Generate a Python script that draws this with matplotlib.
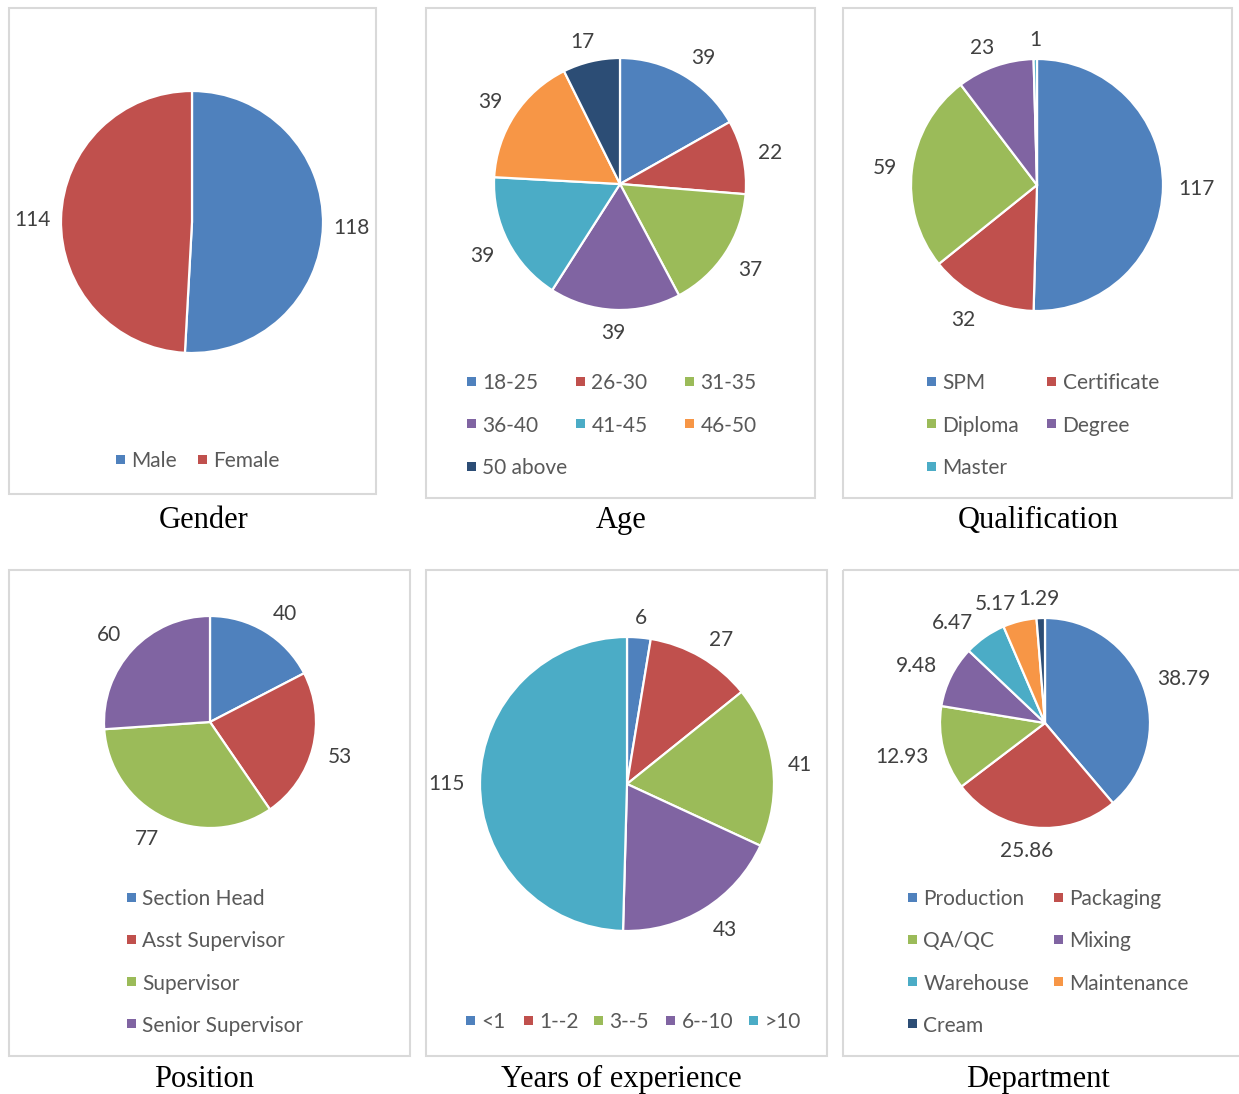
import numpy as np
import matplotlib
matplotlib.use("Agg")
import matplotlib.pyplot as plt
from matplotlib.patches import Rectangle

W, H = 1239, 1094
DPI = 100

gender_labels = ['Male', 'Female']
gender_values = [118, 114]

age_labels = ['18-25', '26-30', '31-35', '36-40', '41-45', '46-50', '50 above']
age_values = [39, 22, 37, 39, 39, 39, 17]

qual_labels = ['SPM', 'Certificate', 'Diploma', 'Degree', 'Master']
qual_values = [117, 32, 59, 23, 1]

position_labels = ['Section Head', 'Asst Supervisor', 'Supervisor', 'Senior Supervisor']
position_values = [40, 53, 77, 60]

years_labels = ['<1', '1--2', '3--5', '6--10', '>10']
years_values = [6, 27, 41, 43, 115]

dept_labels = ['Production', 'Packaging', 'QA/QC', 'Mixing', 'Warehouse', 'Maintenance', 'Cream']
dept_values = [38.79, 25.86, 12.93, 9.48, 6.47, 5.17, 1.29]

colors = ['#4F81BD', '#C0504D', '#9BBB59', '#8064A2', '#4BACC6', '#F79646', '#2C4D75']

LABEL_FONT = 'Lato'
LABEL_SIZE = 15
CAPTION_SIZE = 22

fig = plt.figure(figsize=(W / DPI, H / DPI), dpi=DPI)
# overlay axes in pixel coordinates for boxes, captions and legends
bg = fig.add_axes([0, 0, 1, 1], zorder=0)
bg.set_xlim(0, W)
bg.set_ylim(H, 0)
bg.axis('off')
renderer = fig.canvas.get_renderer()


def grid(x0, y0, dx, dy, ncol, n):
    return [(x0 + (i % ncol) * dx, y0 + (i // ncol) * dy) for i in range(n)]


def overlaps(a, b, pad=1):
    return not (a.x1 + pad < b.x0 or b.x1 + pad < a.x0 or a.y1 + pad < b.y0 or b.y1 + pad < a.y0)


def draw_panel(box, caption, cap_xy, cx, cy, r, values, labels, fmt, legend_pos, gap=15):
    x0, y0, x1, y1 = box
    bg.add_patch(Rectangle((x0, y0), x1 - x0, y1 - y0, fill=False,
                           edgecolor='#D9D9D9', linewidth=1.5))
    bg.text(cap_xy[0], cap_xy[1], caption, ha='center', va='baseline',
            fontsize=CAPTION_SIZE, family='Liberation Serif', color='black')

    m = 1.05
    ax = fig.add_axes([(cx - r * m) / W, 1 - (cy + r * m) / H, 2 * r * m / W, 2 * r * m / H], zorder=1)
    wedges, _ = ax.pie(values, colors=colors[:len(values)], startangle=90, counterclock=False,
                       wedgeprops=dict(edgecolor='white', linewidth=1.6))
    ax.set_xlim(-m, m)
    ax.set_ylim(-m, m)
    ax.set_aspect('equal')

    # data labels outside the end of each wedge
    texts, angles = [], []
    for w, v in zip(wedges, values):
        t = ax.text(0, 0, fmt(v), ha='center', va='center_baseline', fontsize=LABEL_SIZE,
                    family=LABEL_FONT, color='#404040')
        texts.append(t)
        angles.append((w.theta1 + w.theta2) / 2)

    def place(t, deg):
        a = np.deg2rad(deg)
        c, s = np.cos(a), np.sin(a)
        bb = t.get_window_extent(renderer)
        hw, hh = bb.width / 2, bb.height * 0.32
        px = (r + gap) * c + hw * np.clip(2 * c, -1, 1)
        py = (r + gap) * s + hh * np.clip(2 * s, -1, 1)
        t.set_position((px / r, py / r))

    for t, deg in zip(texts, angles):
        place(t, deg)

    # nudge a label away from the next one when they collide
    for i in range(len(texts) - 1, 0, -1):
        steps = 0
        while overlaps(texts[i - 1].get_window_extent(renderer),
                       texts[i].get_window_extent(renderer)) and steps < 30:
            angles[i - 1] += 1
            place(texts[i - 1], angles[i - 1])
            steps += 1

    # legend
    for (lx, ly), lab, col in zip(legend_pos, labels, colors):
        bg.add_patch(Rectangle((lx - 4.5, ly - 4.5), 9, 9, facecolor=col, edgecolor='none'))
        bg.text(lx + 11.5, ly, lab, ha='left', va='center_baseline', fontsize=LABEL_SIZE,
                family=LABEL_FONT, color='#595959')


draw_panel((9, 8, 376, 494), 'Gender', (204, 528), 192, 222, 131,
           gender_values, gender_labels, lambda v: f'{v}',
           [(120, 459), (202, 459)], gap=10)

draw_panel((426, 8, 815, 498), 'Age', (621, 528), 620, 184, 126,
           age_values, age_labels, lambda v: f'{v}',
           grid(471, 381, 109, 42.5, 3, len(age_labels)))

draw_panel((843, 8, 1232, 498), 'Qualification', (1038, 528), 1037, 185, 126,
           qual_values, qual_labels, lambda v: f'{v}',
           grid(931, 381, 120, 42.5, 2, len(qual_labels)))

draw_panel((9, 570, 410, 1056), 'Position', (204, 1087), 210, 722, 106,
           position_values, position_labels, lambda v: f'{v}',
           grid(131, 897, 0, 42.3, 1, len(position_labels)))

draw_panel((426, 570, 827, 1056), 'Years of experience', (621, 1087), 627, 784, 147,
           years_values, years_labels, lambda v: f'{v}',
           [(470, 1020), (528, 1020), (598, 1020), (670, 1020), (753, 1020)])

draw_panel((843, 570, 1250, 1056), 'Department', (1038, 1087), 1045, 723, 105,
           dept_values, dept_labels, lambda v: f'{v:.2f}',
           grid(912, 897, 146, 42.3, 2, len(dept_labels)))

fig.savefig('out.png', dpi=DPI)
